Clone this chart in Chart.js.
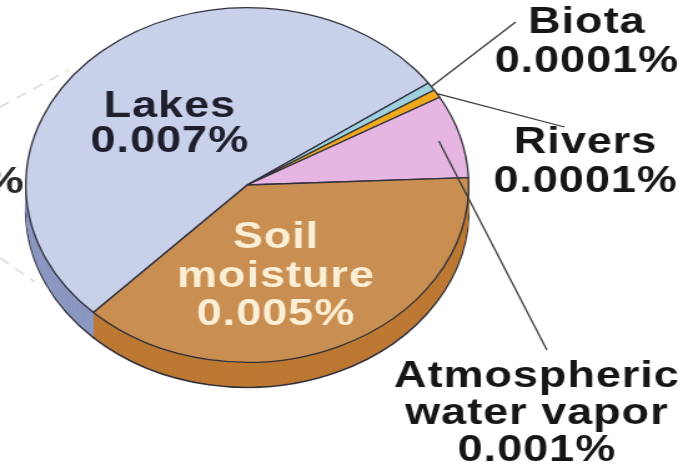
<!DOCTYPE html>
<html>
<head>
<meta charset="utf-8">
<script src="https://cdn.jsdelivr.net/npm/chart.js@4/dist/chart.umd.min.js"></script>
<style>
  html, body { margin: 0; padding: 0; background: #ffffff; overflow: hidden; }
  #wrap { width: 551px; height: 467px; transform: scaleX(1.2486); transform-origin: 0 0; }
  canvas { display: block; }
</style>
</head>
<body>
<div id="wrap"><canvas id="chart" width="551" height="467" style="width:551px;height:467px"></canvas></div>
<script>
// Fresh surface water breakdown, share of all water on Earth (%)
const categories = ['Lakes', 'Biota', 'Rivers', 'Atmospheric water vapor', 'Soil moisture'];
const percentages = [0.007, 0.0001, 0.0001, 0.001, 0.005];
const labelNames = [['Lakes'], ['Biota'], ['Rivers'], ['Atmospheric', 'water vapor'], ['Soil', 'moisture']];

const topColors = ['#c9d0ea', '#9fd0de', '#f0a91f', '#e7b5e1', '#c98f52'];
const sideColors = ['#8c98c0', '#6ea8ba', '#c8870f', '#b986b3', '#bd7933'];

// label placement: centre x, first baseline, line step, text colour, leader end (or null)
const labelStyle = [
  { x: 136, y: 117, step: 35, color: '#1e1e2c', leader: null },
  { x: 470, y: 33, step: 39, color: '#161616', leader: { to: [413, 22], r: 1.0 } },
  { x: 469, y: 153, step: 39, color: '#161616', leader: { to: [452, 127], r: 1.0 } },
  { x: 430, y: 387, step: 37, color: '#161616', leader: { to: [438, 350], r: 0.9 } },
  { x: 221, y: 248, step: 38.5, color: '#fcefd6', leader: null }
];

const FONT = "bold 36px 'Liberation Sans', Arial, Helvetica, sans-serif";
const DEPTH = 25;

// extruded side of the pie: the slices redrawn downward in darker shades
const depthPlugin = {
  id: 'pieDepth',
  beforeDatasetsDraw(chart) {
    const ctx = chart.ctx;
    const arcs = chart.getDatasetMeta(0).data;
    for (let d = DEPTH; d >= 1; d--) {
      ctx.save();
      ctx.translate(0, d);
      arcs.forEach((arc, i) => {
        const saved = arc.options;
        arc.options = Object.assign({}, saved, {
          backgroundColor: sideColors[i],
          borderWidth: d === DEPTH ? 1.6 : 0
        });
        arc.draw(ctx);
        arc.options = saved;
      });
      ctx.restore();
    }
  }
};

// slice names, values and leader lines
const labelPlugin = {
  id: 'sliceLabels',
  beforeDatasetsDraw(chart) {
    const ctx = chart.ctx;
    ctx.save();
    // neighbouring leader lines and label running in from the left edge
    ctx.strokeStyle = 'rgba(150,150,150,0.45)';
    ctx.lineWidth = 1.2;
    ctx.setLineDash([9, 7]);
    ctx.beginPath();
    ctx.moveTo(0, 107); ctx.lineTo(55, 70);
    ctx.moveTo(0, 258); ctx.lineTo(28, 282);
    ctx.stroke();
    ctx.setLineDash([]);
    ctx.font = FONT;
    ctx.fillStyle = '#2a2a2a';
    ctx.textAlign = 'right';
    ctx.textBaseline = 'alphabetic';
    ctx.fillText('%', 19, 193);
    ctx.restore();
  },
  afterDatasetsDraw(chart) {
    const ctx = chart.ctx;
    const arcs = chart.getDatasetMeta(0).data;
    ctx.save();
    arcs.forEach((arc, i) => {
      const st = labelStyle[i];
      if (!st.leader) return;
      const mid = (arc.startAngle + arc.endAngle) / 2;
      const r = arc.outerRadius * st.leader.r;
      ctx.strokeStyle = '#3a3a3a';
      ctx.lineWidth = 1.3;
      ctx.beginPath();
      ctx.moveTo(arc.x + Math.cos(mid) * r, arc.y + Math.sin(mid) * r);
      ctx.lineTo(st.leader.to[0], st.leader.to[1]);
      ctx.stroke();
    });
    ctx.font = FONT;
    ctx.letterSpacing = '0.8px';
    ctx.textAlign = 'center';
    ctx.textBaseline = 'alphabetic';
    categories.forEach((c, i) => {
      const st = labelStyle[i];
      const lines = labelNames[i].concat([String(percentages[i]) + '%']);
      ctx.fillStyle = st.color;
      lines.forEach((t, k) => ctx.fillText(t, st.x, st.y + k * st.step));
    });
    ctx.restore();
  }
};

new Chart(document.getElementById('chart'), {
  type: 'pie',
  data: {
    labels: categories,
    datasets: [{
      data: percentages,
      backgroundColor: topColors,
      borderColor: '#30303c',
      borderWidth: 1.3,
      hoverOffset: 0
    }]
  },
  options: {
    responsive: false,
    animation: false,
    events: [],
    rotation: 224,
    layout: { padding: { left: 20, top: 7, right: 175, bottom: 104 } },
    plugins: { legend: { display: false }, tooltip: { enabled: false } }
  },
  plugins: [depthPlugin, labelPlugin]
});
</script>
</body>
</html>
